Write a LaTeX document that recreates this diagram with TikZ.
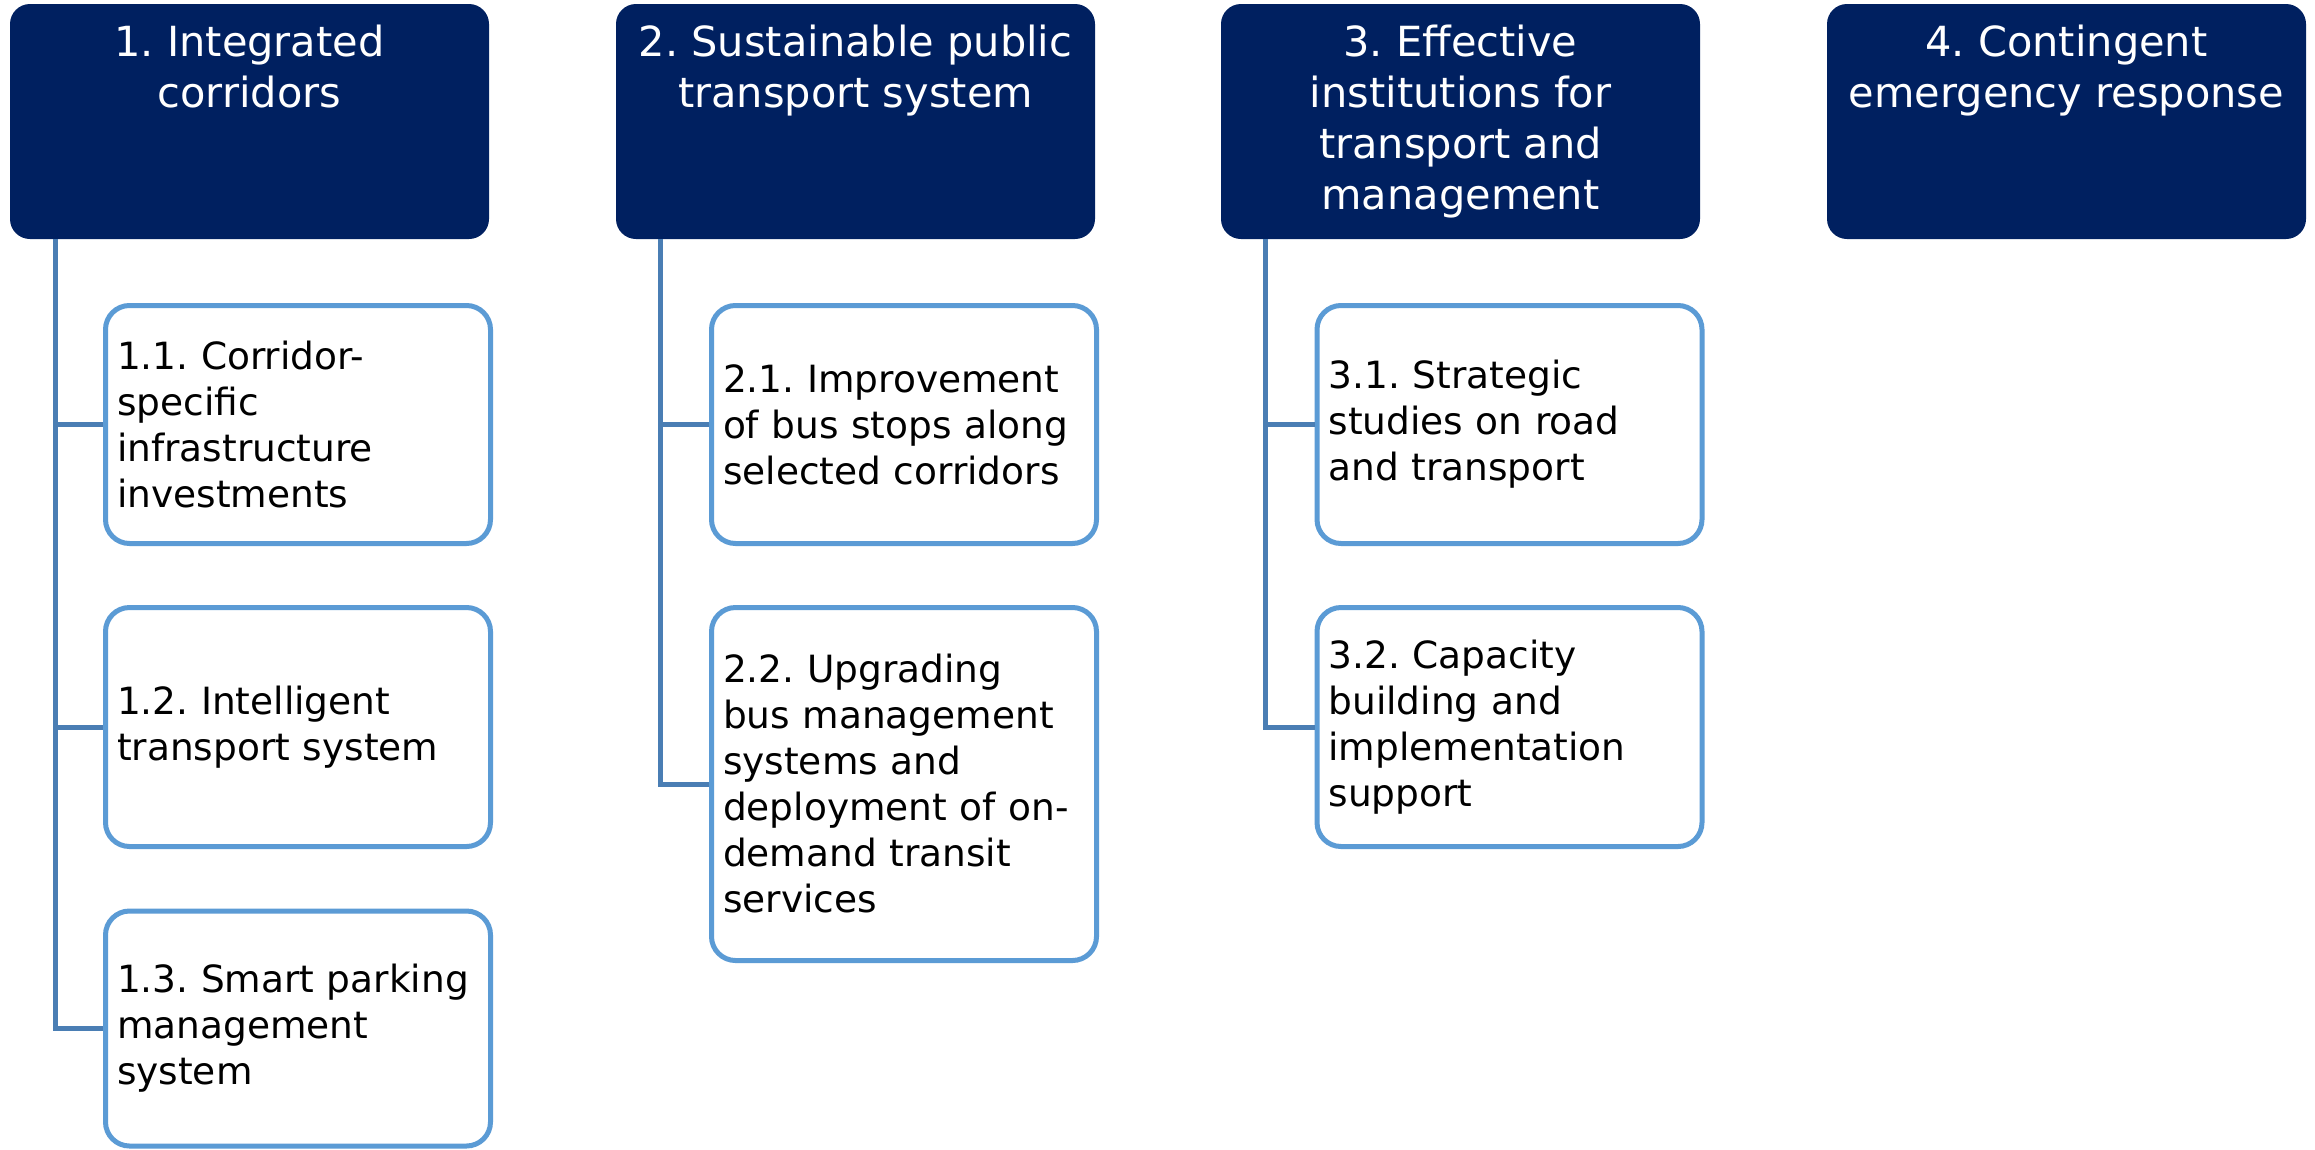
\documentclass[tikz,border=0pt]{standalone}
\usepackage{fontspec}
\setmainfont{DejaVu Sans}
\definecolor{navy}{HTML}{002060}
\definecolor{boxblue}{HTML}{5B9BD5}
\definecolor{connblue}{HTML}{4A7EB4}
\newcommand\hdrtext[1]{\parbox[c][194pt][t]{470pt}{\centering\fontsize{41.5}{51}\selectfont #1}}
\tikzset{
  hdr/.style={fill=navy, rounded corners=20pt, minimum width=479pt, minimum height=235pt, inner sep=0pt, text=white},
  sub/.style={draw=boxblue, line width=5pt, fill=white, rounded corners=24pt, inner sep=0pt, minimum width=385pt, text width=362pt, align=left, font=\fontsize{37.5}{46}\selectfont},
  conn/.style={draw=connblue, line width=5pt},
}
\begin{document}
\frenchspacing
\begin{tikzpicture}[x=1pt,y=-1pt]
\fill[white] (0,0) rectangle (2315,1149);
\useasboundingbox (0,0) rectangle (2315,1149);
% headers
\node[hdr] (h1) at (249.5,121.5) {\hdrtext{1. Integrated\\corridors}};
\node[hdr] (h2) at (855.5,121.5) {\hdrtext{2. Sustainable public\\transport system}};
\node[hdr] (h3) at (1460.5,121.5) {\hdrtext{3. Effective\\institutions for\\transport and\\management}};
\node[hdr] (h4) at (2066.5,121.5) {\hdrtext{4. Contingent\\emergency response}};
% sub boxes
\node[sub, minimum height=238pt] (s11) at (298,424.5) {1.1. Corridor-\\specific\\infrastructure\\investments};
\node[sub, minimum height=239pt] (s12) at (298,727) {1.2. Intelligent\\transport system};
\node[sub, minimum height=235pt] (s13) at (298,1028.5) {1.3. Smart parking\\management\\system};
\node[sub, minimum height=238pt] (s21) at (904,424.5) {2.1. Improvement\\of bus stops along\\selected corridors};
\node[sub, minimum height=353pt] (s22) at (904,784) {2.2. Upgrading\\bus management\\systems and\\deployment of on-\\demand transit\\services};
\node[sub, minimum height=238pt] (s31) at (1509.5,424.5) {3.1. Strategic\\studies on road\\and transport};
\node[sub, minimum height=239pt] (s32) at (1509.5,727) {3.2. Capacity\\building and\\implementation\\support};
% connectors
\draw[conn] ([xshift=46pt]h1.south west) |- (s11.west);
\draw[conn] ([xshift=46pt]h1.south west) |- (s12.west);
\draw[conn] ([xshift=46pt]h1.south west) |- (s13.west);
\draw[conn] ([xshift=45pt]h2.south west) |- (s21.west);
\draw[conn] ([xshift=45pt]h2.south west) |- (s22.west);
\draw[conn] ([xshift=45pt]h3.south west) |- (s31.west);
\draw[conn] ([xshift=45pt]h3.south west) |- (s32.west);
\end{tikzpicture}
\end{document}
